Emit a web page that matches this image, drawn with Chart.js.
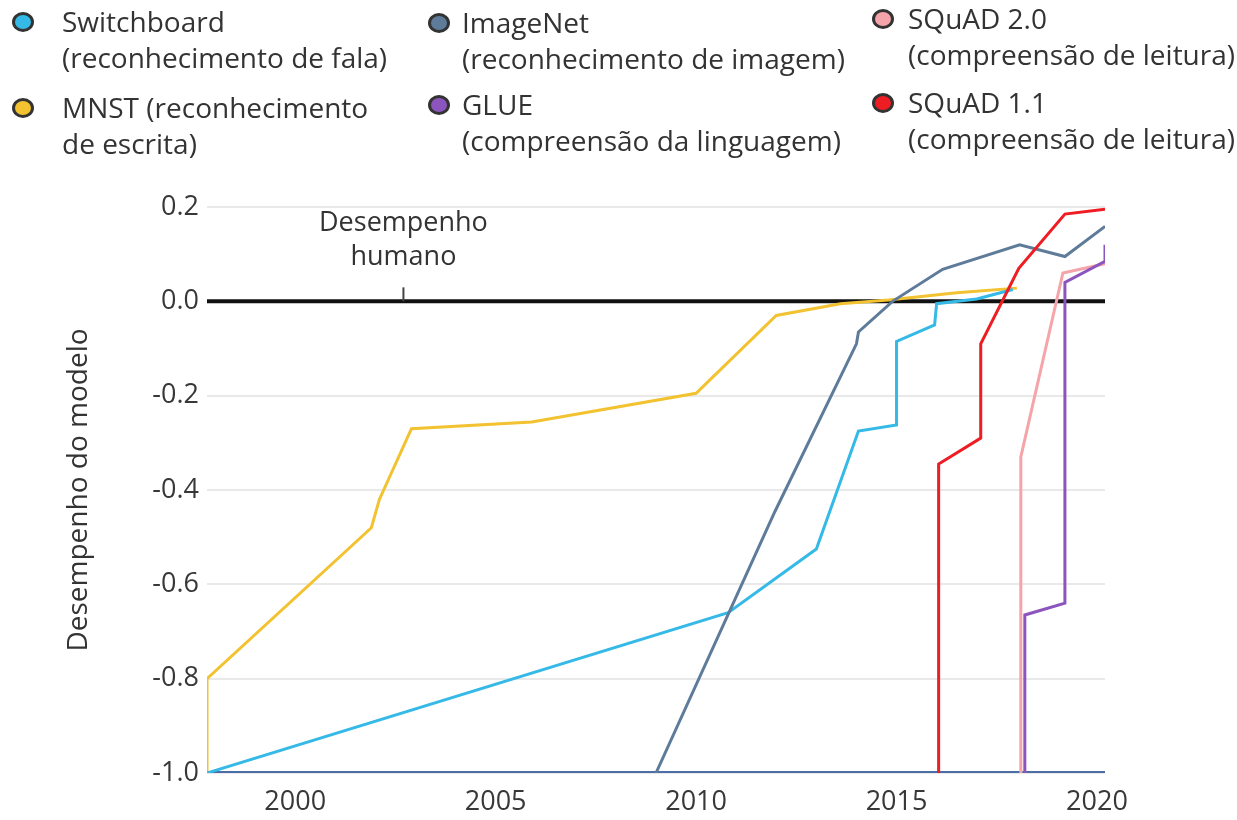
<!DOCTYPE html>
<html>
<head>
<meta charset="utf-8">
<script src="https://cdn.jsdelivr.net/npm/chart.js@4"></script>
<style>
  body { margin: 0; background: #fff; }
  #wrap { position: relative; width: 1237px; height: 820px; overflow: hidden; }
  #chart { position: absolute; left: 0; top: 0; }
  .leg { position: absolute; font-family: "Open Sans", sans-serif; font-size: 28px; line-height: 36px; color: #333; white-space: nowrap; }
  .dot { position: absolute; width: 16px; height: 14px; border: 3px solid #333; border-radius: 50%; }
</style>
</head>
<body>
<div id="wrap">
  <canvas id="chart" width="1237" height="820"></canvas>
  <div id="legend"></div>
</div>
<script>
// eixos
const xMin = 1997.8;
const xMax = 2020.2;
const xTicks = [2000, 2005, 2010, 2015, 2020];
const yTicks = [0.2, 0.0, -0.2, -0.4, -0.6, -0.8, -1.0];
const humanMarkX = 2002.7;

// séries (ano, desempenho)
const switchboardX = [1997.8, 2010.8, 2013.0, 2014.05, 2015.0, 2015.0, 2015.95, 2016.0, 2017.0, 2017.9];
const switchboardY = [-1.0, -0.66, -0.525, -0.275, -0.262, -0.085, -0.05, -0.005, 0.005, 0.025];

const mnstX = [1997.8, 1997.8, 2001.9, 2002.1, 2002.9, 2005.9, 2010.0, 2012.0, 2013.6, 2014.8, 2016.5, 2018.0];
const mnstY = [-1.0, -0.8, -0.48, -0.42, -0.27, -0.256, -0.195, -0.03, -0.005, 0.003, 0.018, 0.028];

const imagenetX = [2009.0, 2011.97, 2014.0, 2014.05, 2014.9, 2016.15, 2018.07, 2019.2, 2020.2];
const imagenetY = [-1.0, -0.445, -0.09, -0.065, 0.0, 0.068, 0.12, 0.095, 0.159];

const glueX = [2018.2, 2018.2, 2019.2, 2019.2, 2020.2, 2020.2];
const glueY = [-1.0, -0.665, -0.64, 0.04, 0.085, 0.12];

const squad2X = [2018.1, 2018.1, 2019.15, 2020.2];
const squad2Y = [-1.0, -0.33, 0.06, 0.08];

const squad1X = [2016.05, 2016.05, 2017.1, 2017.1, 2018.05, 2019.2, 2020.2];
const squad1Y = [-1.0, -0.345, -0.29, -0.09, 0.07, 0.185, 0.195];

const series = [
  { label: 'SQuAD 1.1', sub: '(compreensão de leitura)', xs: squad1X, ys: squad1Y, color: '#ee1d23' },
  { label: 'GLUE', sub: '(compreensão da linguagem)', xs: glueX, ys: glueY, color: '#8b55bd' },
  { label: 'SQuAD 2.0', sub: '(compreensão de leitura)', xs: squad2X, ys: squad2Y, color: '#f5a4a9' },
  { label: 'ImageNet', sub: '(reconhecimento de imagem)', xs: imagenetX, ys: imagenetY, color: '#5e7b9a' },
  { label: 'Switchboard', sub: '(reconhecimento de fala)', xs: switchboardX, ys: switchboardY, color: '#35b9e6' },
  { label: 'MNST (reconhecimento', sub: 'de escrita)', xs: mnstX, ys: mnstY, color: '#f2c230' },
];

const toPoints = (xs, ys) => xs.map((x, i) => ({ x: x, y: ys[i] }));

const datasets = series.map(s => ({
  label: s.label,
  data: toPoints(s.xs, s.ys),
  borderColor: s.color,
  borderWidth: 3,
  pointRadius: 0,
  tension: 0,
}));

// linha do desempenho humano e linha de base
datasets.push({
  label: 'humano',
  data: toPoints([xMin, xMax], [0, 0]),
  borderColor: '#111',
  borderWidth: 4,
  pointRadius: 0,
});
datasets.push({
  label: 'base',
  data: toPoints([xMin, xMax], [-1, -1]),
  borderColor: '#4c6ea6',
  borderWidth: 4,
  pointRadius: 0,
});

// anotação "Desempenho humano"
const humanLabel = {
  id: 'humanLabel',
  afterDatasetsDraw(chart) {
    const ctx = chart.ctx;
    const x = chart.scales.x.getPixelForValue(humanMarkX);
    const y = chart.scales.y.getPixelForValue(0);
    ctx.save();
    ctx.strokeStyle = '#444';
    ctx.lineWidth = 2;
    ctx.beginPath();
    ctx.moveTo(x, y - 14);
    ctx.lineTo(x, y);
    ctx.stroke();
    ctx.fillStyle = '#333';
    ctx.font = '27px "Open Sans"';
    ctx.textAlign = 'center';
    ctx.textBaseline = 'middle';
    ctx.fillText('Desempenho', x, y - 78);
    ctx.fillText('humano', x, y - 44);
    ctx.restore();
  },
};

const tickFont = { family: 'Open Sans', size: 27 };

new Chart(document.getElementById('chart').getContext('2d'), {
  type: 'line',
  data: { datasets: datasets },
  options: {
    responsive: false,
    animation: false,
    layout: { padding: { top: 207, left: 58, right: 132, bottom: 7 } },
    plugins: { legend: { display: false }, tooltip: { enabled: false } },
    scales: {
      x: {
        type: 'linear',
        min: xMin,
        max: xMax,
        afterBuildTicks: (axis) => { axis.ticks = xTicks.map(v => ({ value: v })); },
        afterFit: (axis) => { axis.height = 40; },
        grid: { display: false },
        border: { display: false },
        ticks: { font: tickFont, color: '#383838', padding: 5, maxRotation: 0, callback: (v) => String(v) },
      },
      y: {
        min: -1,
        max: 0.2,
        afterBuildTicks: (axis) => { axis.ticks = yTicks.map(v => ({ value: v })); },
        afterFit: (axis) => { axis.width = 149; },
        grid: { color: '#e9e9e9', lineWidth: 2, drawTicks: false },
        border: { display: false },
        ticks: { font: tickFont, color: '#383838', padding: 8, callback: (v) => v.toFixed(1) },
        title: { display: true, text: 'Desempenho do modelo', font: { family: 'Open Sans', size: 28 }, color: '#333', padding: { top: 4, bottom: 4 } },
      },
    },
  },
  plugins: [humanLabel],
});

// legenda em HTML (3 colunas x 2 linhas)
const legendPos = [
  { name: 'Switchboard', left: 12, top: 3, gap: 50 },
  { name: 'MNST (reconhecimento', left: 12, top: 89, gap: 50 },
  { name: 'ImageNet', left: 428, top: 4, gap: 34 },
  { name: 'GLUE', left: 428, top: 86, gap: 34 },
  { name: 'SQuAD 2.0', left: 872, top: 0, gap: 36 },
  { name: 'SQuAD 1.1', left: 872, top: 84, gap: 36 },
];
const legendEl = document.getElementById('legend');
legendPos.forEach(p => {
  const s = series.find(d => d.label === p.name);
  const dot = document.createElement('div');
  dot.className = 'dot';
  dot.style.left = p.left + 'px';
  dot.style.top = (p.top + 9) + 'px';
  dot.style.background = s.color;
  legendEl.appendChild(dot);
  const txt = document.createElement('div');
  txt.className = 'leg';
  txt.style.left = (p.left + p.gap) + 'px';
  txt.style.top = p.top + 'px';
  txt.innerHTML = s.label + '<br>' + s.sub;
  legendEl.appendChild(txt);
});
</script>
</body>
</html>
